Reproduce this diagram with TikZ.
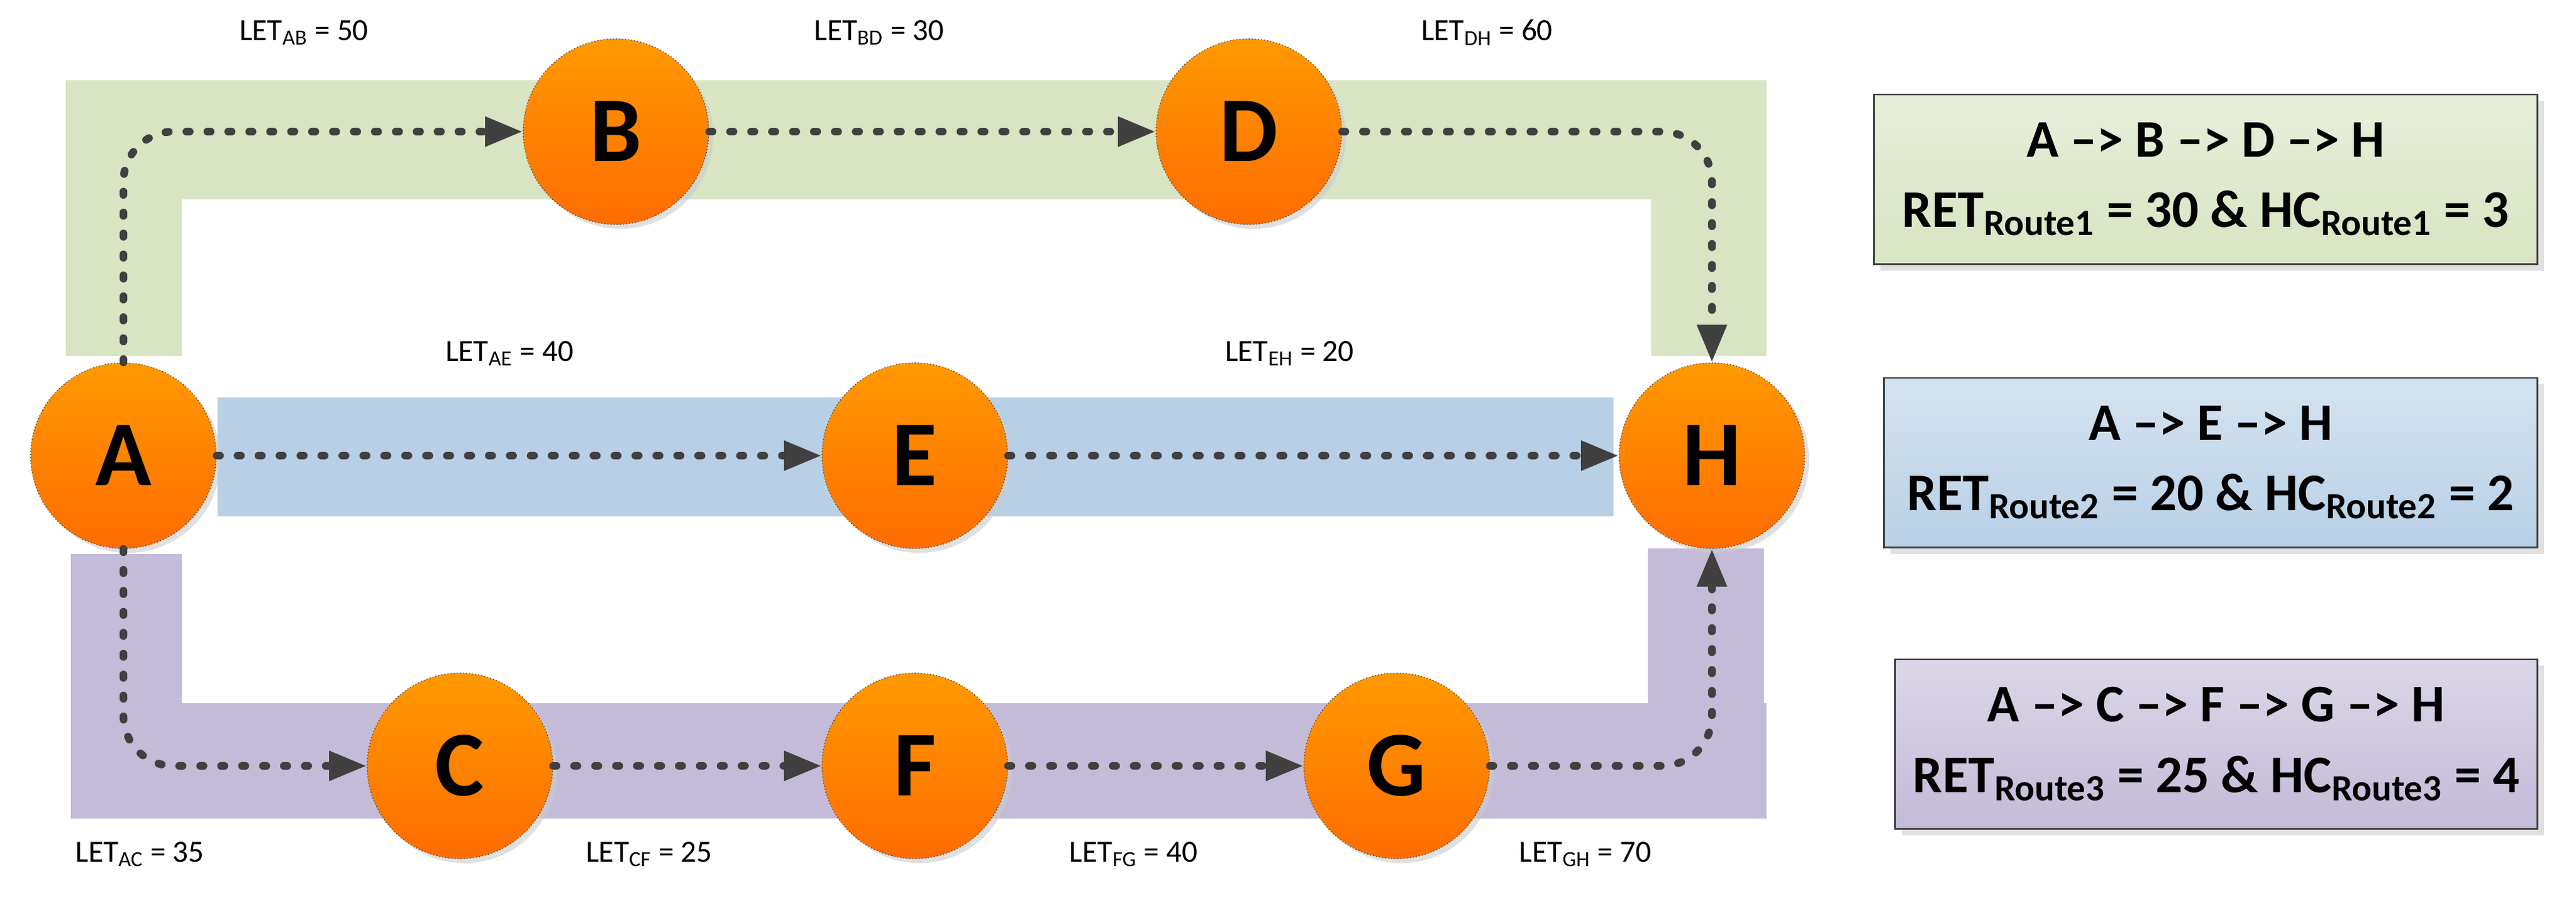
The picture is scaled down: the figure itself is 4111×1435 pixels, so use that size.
\documentclass[tikz,border=0pt]{standalone}
\usepackage{fontspec}
\setmainfont{Carlito}
\usetikzlibrary{positioning, arrows.meta, shadows}

\definecolor{bandgreen}{HTML}{D8E4C2}
\definecolor{bandblue}{HTML}{B8D0E6}
\definecolor{bandpurple}{HTML}{C4BBD8}
\definecolor{pathgray}{HTML}{404040}

\begin{document}
\begin{tikzpicture}[x=0.01cm, y=-0.01cm,
        hop/.style={circle, draw=pathgray, densely dotted, thin, minimum size=2.96cm, inner sep=0pt,
            top color=orange!55!red!20!white!0!orange!80!yellow, bottom color=orange!85!red,
            font=\fontsize{42}{42}\selectfont\bfseries,
            drop shadow={shadow xshift=2pt, shadow yshift=-2pt, fill=gray!40, opacity=.6}},
        route/.style={draw=pathgray, line width=3.5pt, line cap=round, dash pattern=on 1.5pt off 8pt,
            rounded corners=0.8cm, -{Triangle[length=0.6cm, width=0.45cm]}},
        let/.style={font=\fontsize{14}{16}\selectfont},
        summary/.style={draw=pathgray, thick, align=center, minimum height=2.7cm,
            font=\fontsize{24}{32}\selectfont\bfseries,
            drop shadow={shadow xshift=3pt, shadow yshift=-3pt, fill=gray!30, opacity=.8}}]
    \useasboundingbox (0,0) rectangle (4111,1435);

    % Bänder
    \fill[bandgreen] (105,128) rectangle (2819,318) (105,318) rectangle (290,568) (2635,318) rectangle (2819,568);
    \fill[bandblue] (347,634) rectangle (2575,824);
    \fill[bandpurple] (113,1122) rectangle (2819,1306) (113,884) rectangle (290,1122) (2630,875) rectangle (2815,1122);

    % Knoten
    \node (A) [hop] at (197,727) {A};
    \node (B) [hop] at (983,210) {B};
    \node (D) [hop] at (1993,210) {D};
    \node (E) [hop] at (1460,727) {E};
    \node (H) [hop] at (2732,727) {H};
    \node (C) [hop] at (734,1222) {C};
    \node (F) [hop] at (1460,1222) {F};
    \node (G) [hop] at (2229,1222) {G};

    % Verbindungen
    \draw[route] (A) |- (B);
    \draw[route] (B) -- (D);
    \draw[route] (D) -| (H);
    \draw[route] (A) -- (E);
    \draw[route] (E) -- (H);
    \draw[route] (A) |- (C);
    \draw[route] (C) -- (F);
    \draw[route] (F) -- (G);
    \draw[route] (G) -| (H);

    % Beschriftungen
    \node (lab) [let] at (485,52) {LET\textsubscript{AB} = 50};
    \node (lbd) [let] at (1403,52) {LET\textsubscript{BD} = 30};
    \node (ldh) [let] at (2373,52) {LET\textsubscript{DH} = 60};
    \node (lae) [let] at (813,564) {LET\textsubscript{AE} = 40};
    \node (leh) [let] at (2058,564) {LET\textsubscript{EH} = 20};
    \node (lac) [let] at (223,1363) {LET\textsubscript{AC} = 35};
    \node (lcf) [let] at (1036,1363) {LET\textsubscript{CF} = 25};
    \node (lfg) [let] at (1809,1363) {LET\textsubscript{FG} = 40};
    \node (lgh) [let] at (2530,1363) {LET\textsubscript{GH} = 70};

    % Routen
    \node (r1) [summary, top color=bandgreen!60, bottom color=bandgreen, minimum width=10.59cm] at (3520,286)
        {A --> B --> D --> H\\RET\textsubscript{Route1} = 30 \& HC\textsubscript{Route1} = 3};
    \node (r2) [summary, top color=bandblue!60, bottom color=bandblue, minimum width=10.42cm] at (3528,738)
        {A --> E --> H\\RET\textsubscript{Route2} = 20 \& HC\textsubscript{Route2} = 2};
    \node (r3) [summary, top color=bandpurple!60, bottom color=bandpurple, minimum width=10.25cm] at (3537,1187)
        {A --> C --> F --> G --> H\\RET\textsubscript{Route3} = 25 \& HC\textsubscript{Route3} = 4};
\end{tikzpicture}
\end{document}
